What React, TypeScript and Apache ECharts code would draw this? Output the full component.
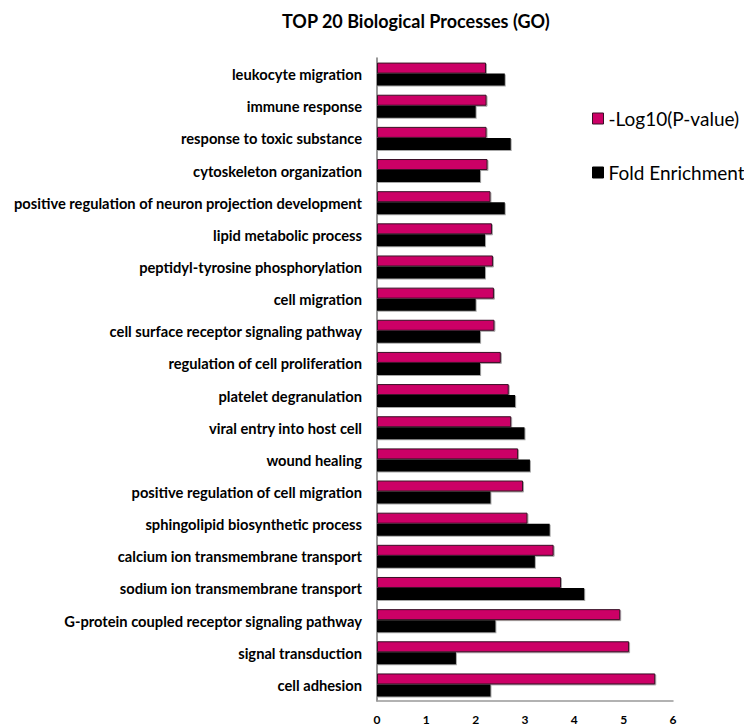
import React, { useEffect, useRef } from "react";
import * as echarts from "echarts";

const categories = [
  "leukocyte migration",
  "immune response",
  "response to toxic substance",
  "cytoskeleton organization",
  "positive regulation of neuron projection development",
  "lipid metabolic process",
  "peptidyl-tyrosine phosphorylation",
  "cell migration",
  "cell surface receptor signaling pathway",
  "regulation of cell proliferation",
  "platelet degranulation",
  "viral entry into host cell",
  "wound healing",
  "positive regulation of cell migration",
  "sphingolipid biosynthetic process",
  "calcium ion transmembrane transport",
  "sodium ion transmembrane transport",
  "G-protein coupled receptor signaling pathway",
  "signal transduction",
  "cell adhesion",
];

const negLog10P = [
  2.21, 2.22, 2.22, 2.24, 2.3, 2.33, 2.35, 2.37, 2.38, 2.51,
  2.67, 2.72, 2.86, 2.96, 3.05, 3.58, 3.73, 4.93, 5.11, 5.64,
];

const foldEnrichment = [
  2.59, 2.0, 2.71, 2.09, 2.59, 2.19, 2.19, 2.0, 2.09, 2.09,
  2.8, 2.99, 3.1, 2.3, 3.5, 3.2, 4.2, 2.4, 1.6, 2.3,
];

const xTicks = [0, 1, 2, 3, 4, 5, 6];

const FONT = "Lato, 'Open Sans', sans-serif";

export default function App() {
  const ref = useRef<HTMLDivElement>(null);
  useEffect(() => {
    document.body.style.margin = "0";
    if (!ref.current) return;
    const chart = echarts.init(ref.current, null, { renderer: "svg" });
    chart.setOption({
      animation: false,
      backgroundColor: "#fff",
      title: {
        text: "TOP 20 Biological Processes (GO)",
        left: 277,
        top: 7,
        textStyle: { fontFamily: FONT, fontSize: 18, fontWeight: "bold", color: "#000" },
      },
      legend: {
        orient: "vertical",
        left: 592,
        top: 109,
        padding: 0,
        itemWidth: 11,
        itemHeight: 11,
        itemGap: 35,
        icon: "rect",
        textStyle: { fontFamily: FONT, fontSize: 19, color: "#000" },
        data: [
          { name: "-Log10(P-value)", itemStyle: { color: "#CC0066", borderColor: "#3a1026", borderWidth: 1 } },
          { name: "Fold Enrichment", itemStyle: { color: "#000", borderColor: "#000", borderWidth: 1 } },
        ],
      },
      grid: { left: 377, right: 71, top: 58, bottom: 25 },
      xAxis: {
        type: "value",
        min: 0,
        max: 6,
        interval: 1,
        axisLine: { show: true, lineStyle: { color: "#999", width: 1.5 } },
        axisTick: { show: false },
        splitLine: { show: false },
        axisLabel: {
          fontFamily: FONT,
          fontSize: 12,
          fontWeight: "bold",
          color: "#000",
          margin: 12,
          formatter: (v: number) => (xTicks.includes(v) ? String(v) : ""),
        },
      },
      yAxis: {
        type: "category",
        inverse: true,
        data: categories,
        axisLine: { show: true, lineStyle: { color: "#777", width: 1.5 } },
        axisTick: { show: false },
        axisLabel: {
          fontFamily: FONT,
          fontSize: 14.7,
          fontWeight: "bold",
          color: "#000",
          margin: 15,
        },
      },
      series: [
        {
          name: "-Log10(P-value)",
          type: "bar",
          data: negLog10P,
          barWidth: 11,
          barGap: "0%",
          itemStyle: {
            color: "#CC0066",
            borderColor: "#3a1026",
            borderWidth: 1,
            shadowColor: "rgba(0,0,0,0.35)",
            shadowOffsetX: 1,
            shadowOffsetY: 1,
            shadowBlur: 1,
          },
        },
        {
          name: "Fold Enrichment",
          type: "bar",
          data: foldEnrichment,
          barWidth: 12,
          itemStyle: {
            color: "#000",
            shadowColor: "rgba(0,0,0,0.35)",
            shadowOffsetX: 1,
            shadowOffsetY: 1,
            shadowBlur: 1,
          },
        },
      ],
    });
    return () => chart.dispose();
  }, []);
  return <div ref={ref} style={{ width: 744, height: 726 }} />;
}
